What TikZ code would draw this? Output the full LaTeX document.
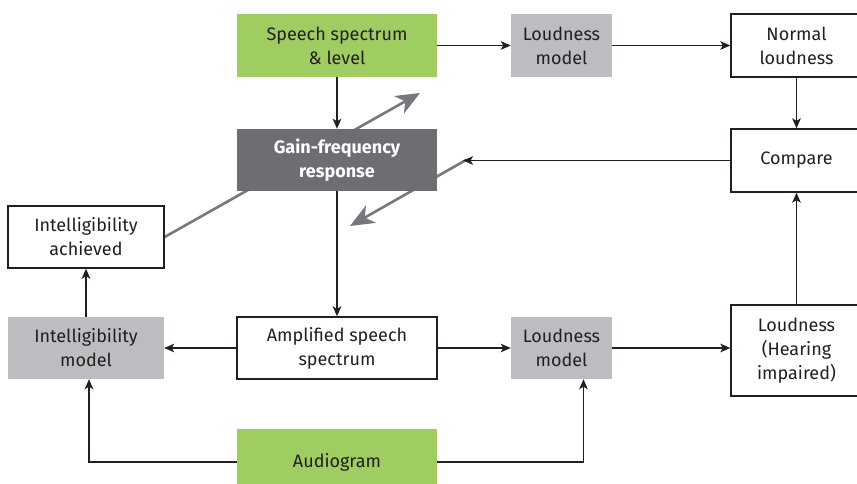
\documentclass[tikz,border=0pt]{standalone}
\usepackage{fontspec}
\setmainfont{Fira Sans}
\usetikzlibrary{arrows.meta,backgrounds}
\definecolor{boxgreen}{HTML}{A0CD62}
\definecolor{boxgray}{HTML}{BCBDC0}
\definecolor{boxdark}{HTML}{6D6E71}
\definecolor{arrgray}{HTML}{77787B}
\definecolor{txt}{HTML}{231F20}
\begin{document}
\begin{tikzpicture}[x=1pt,y=-1pt,
  base/.style={inner sep=0pt, align=center, text=txt,
    font=\fontsize{18}{24}\selectfont},
  whitebox/.style={base, draw=txt, line width=1.3pt, fill=white},
  greenbox/.style={base, fill=boxgreen},
  graybox/.style={base, fill=boxgray},
  darkbox/.style={base, fill=boxdark, text=white,
    font=\fontsize{18}{24}\selectfont\bfseries},
  conn/.style={draw=txt, line width=1.8pt,
    -{Stealth[length=10pt,width=8.5pt,inset=2.5pt]}},
  bigarr/.style={draw=arrgray, line width=2.6pt,
    -{Stealth[length=24pt,width=20pt,inset=7pt]}}]
\useasboundingbox (0,0) rectangle (857,484);
\clip (0,0) rectangle (857,484);
% boxes
\node[greenbox, minimum width=200pt, minimum height=63pt] (speech) at (337,45.5) {Speech spectrum\\ \& level};
\node[graybox, minimum width=101pt, minimum height=63pt] (loud1) at (561.5,45.5) {Loudness\\ model};
\node[whitebox, minimum width=131pt, minimum height=63pt] (normal) at (796.5,45.5) {Normal\\ loudness};
\node[darkbox, minimum width=200pt, minimum height=62pt] (gain) at (337,160) {Gain-frequency\\ response};
\node[whitebox, minimum width=131pt, minimum height=63pt] (compare) at (796.5,160.5) {Compare};
\node[whitebox, minimum width=156pt, minimum height=62pt] (intach) at (86,237) {Intelligibility\\ achieved};
\node[graybox, minimum width=156pt, minimum height=62pt] (intmod) at (86,348) {Intelligibility\\ model};
\node[whitebox, minimum width=200pt, minimum height=62pt] (amp) at (337,348) {Amplified speech\\ spectrum};
\node[graybox, minimum width=101pt, minimum height=62pt] (loud2) at (561.5,348) {Loudness\\ model};
\node[whitebox, minimum width=131pt, minimum height=91pt] (loudhi) at (796.5,350.5) {Loudness\\ (Hearing\\ impaired)};
\node[greenbox, minimum width=200pt, minimum height=66pt] (audio) at (337,462) {Audiogram};
% named free ends
\coordinate (cmptip) at (463,160.5);
\coordinate (g1end) at (420,93);
\coordinate (g2start) at (466,160);
\coordinate (g2end) at (350,226);
% gray diagonal arrows behind the gain box
\begin{scope}[on background layer]
\draw[bigarr] (intach.east) -- (g1end);
\draw[bigarr] (g2start) -- (g2end);
\end{scope}
% black connectors
\draw[conn] (speech.east) -- (loud1.west);
\draw[conn] (loud1.east) -- (normal.west);
\draw[conn] (normal.south) -- (compare.north);
\draw[conn] (speech.south) -- (gain.north);
\draw[conn] (compare.west) -- (cmptip);
\draw[conn] (gain.south) -- (amp.north);
\draw[conn] (amp.west) -- (intmod.east);
\draw[conn] (amp.east) -- (loud2.west);
\draw[conn] (loud2.east) -- (loud2.east -| loudhi.west);
\draw[conn] (loudhi.north) -- (compare.south);
\draw[conn] (intmod.north) -- (intach.south);
\draw[conn] (audio.west) -| ([xshift=3pt]intmod.south);
\draw[conn] (audio.east) -| ([xshift=22pt]loud2.south);
\end{tikzpicture}
\end{document}
